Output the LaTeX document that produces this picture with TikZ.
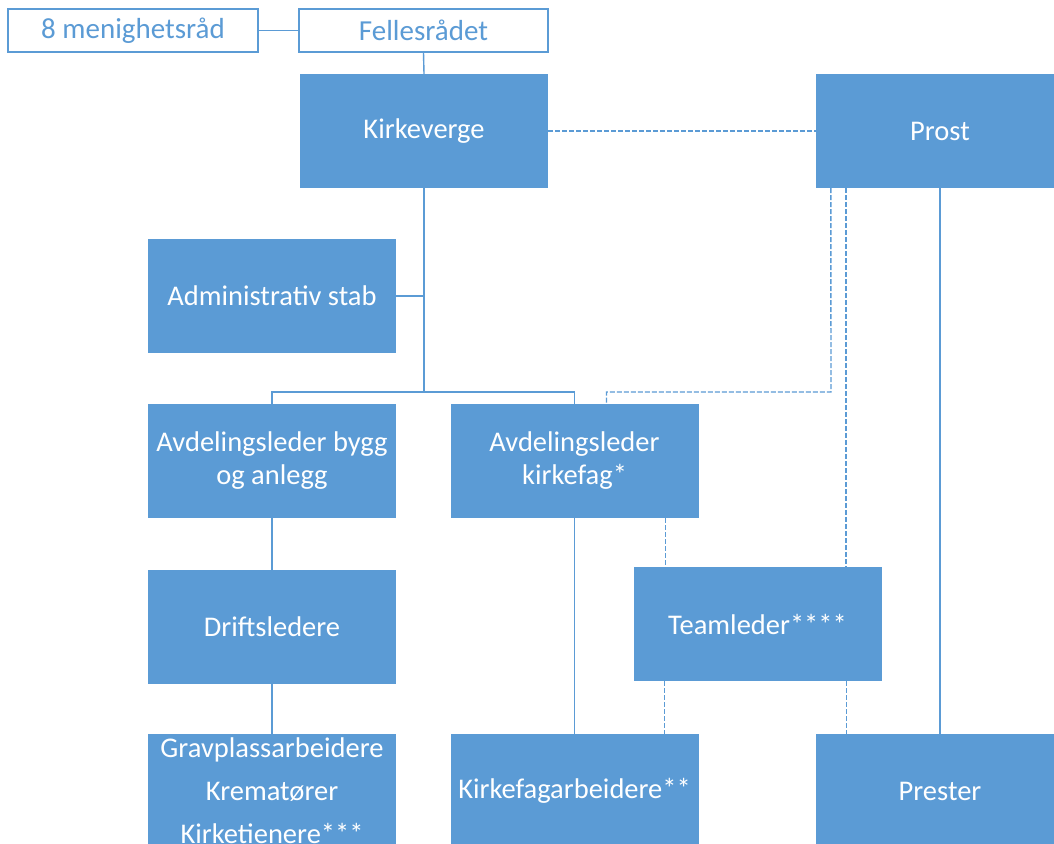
\documentclass[tikz,border=0pt]{standalone}
\usepackage{fontspec}
\setmainfont{Carlito}
\definecolor{blu}{HTML}{5B9BD5}
\begin{document}
\begin{tikzpicture}[x=1pt,y=-1pt,
  fbox/.style={rectangle, fill=blu, text=white, minimum width=248pt, minimum height=114pt, inner sep=0pt, align=center, font=\fontsize{28.5}{33}\selectfont},
  obox/.style={rectangle, draw=blu, line width=1.5pt, fill=white, text=blu, minimum height=43pt, inner sep=0pt, align=center, font=\fontsize{29}{33}\selectfont},
  conn/.style={draw=blu, line width=1.4pt},
  dsh/.style={draw=blu, line width=1.4pt, dash pattern=on 5pt off 2pt}]
\clip (0,0) rectangle (1054,843);
\fill[white] (0,0) rectangle (1054,843);
\node[obox, minimum width=250pt] (mr) at (133,30.5) {\raisebox{0pt}{8 menighetsråd}};
\node[obox, minimum width=249pt] (fr) at (423.5,30.5) {Fellesrådet};
\node[fbox] (kv) at (424,131) {Kirkeverge};
\node[fbox] (pr) at (940,131) {Prost};
\node[fbox] (adm) at (272,296) {Administrativ stab};
\node[fbox] (ab) at (272,461) {Avdelingsleder bygg\\og anlegg};
\node[fbox] (ak) at (574.5,461) {Avdelingsleder\\kirkefag*};
\node[fbox] (dr) at (272,627) {Driftsledere};
\node[fbox] (tl) at (757.5,624) {Teamleder****};
\node[fbox] (gp) at (272,791) {Gravplassarbeidere\\[10pt]Krematører\\[10pt]Kirketienere***};
\node[fbox] (kf) at (574.5,791) {Kirkefagarbeidere**};
\node[fbox] (ps) at (940,791) {Prester};
\coordinate (j) at (424,392);
\coordinate (k) at (831,392);
\draw[conn] (mr.east) -- (fr.west);
\draw[conn] (fr.south) -- (kv.north);
\draw[conn] (kv.south) -- (j);
\draw[conn] (adm.east) -- (adm.east -| j);
\draw[conn] (ab.north) |- (j) -| (ak.north);
\draw[conn] (ab.south) -- (dr.north);
\draw[conn] (dr.south) -- (gp.north);
\draw[conn] (ak.south) -- (kf.north);
\draw[conn] (pr.south) -- (ps.north);
\draw[dsh] (kv.east) -- (pr.west);
\draw[dsh] ([xshift=15pt]pr.south west) -- (k) -| ([xshift=32pt]ak.north);
\draw[dsh] ([xshift=30pt]pr.south west) -- ([xshift=30pt]pr.south west |- tl.north);
\draw[dsh] ([xshift=-35pt]tl.south east) -- ([xshift=-35pt]tl.south east |- ps.north);
\draw[dsh] ([xshift=-33pt]ak.south east) -- ([xshift=-33pt]ak.south east |- tl.north);
\draw[dsh] ([xshift=31pt]tl.south west) -- ([xshift=31pt]tl.south west |- kf.north);
\end{tikzpicture}
\end{document}
